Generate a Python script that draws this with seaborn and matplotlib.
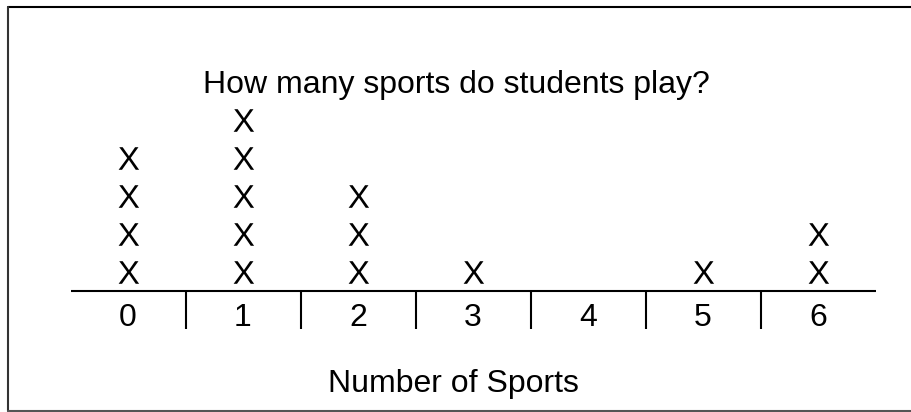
import numpy as np
import pandas as pd
import matplotlib
matplotlib.use("Agg")
import matplotlib.pyplot as plt
import seaborn as sns
from matplotlib.textpath import TextPath
from matplotlib.font_manager import FontProperties
from matplotlib.path import Path
from matplotlib.lines import Line2D

# Data: number of sports and how many students play that many
sports = [0, 1, 2, 3, 4, 5, 6]
counts = [4, 5, 3, 1, 0, 1, 2]
tick_labels = ["0", "1", "2", "3", "4", "5", "6"]

title = "How many sports do students play?"
xlabel = "Number of Sports"

sns.set_theme(style="white")
plt.rcParams['font.family'] = ['Liberation Sans', 'DejaVu Sans']

# one row per X mark, stacked above each value
rows = []
for s, c in zip(sports, counts):
    for k in range(c):
        rows.append({"sports": s, "level": k + 0.5})
df = pd.DataFrame(rows)

# an "X" glyph as a marker
fp = FontProperties(family='Liberation Sans')
tp = TextPath((0, 0), "X", prop=fp, size=1)
v = tp.vertices
ctr = (v.min(axis=0) + v.max(axis=0)) / 2
x_marker = Path(v - ctr, tp.codes)

fig = plt.figure(figsize=(9.11, 4.12), dpi=100)
ax = fig.add_axes([0, 0, 1, 1])
ax.set_xlim(-128 / 115, (911 - 128) / 115)
ax.set_ylim((291 - 412) / 38, 291 / 38)
ax.axis('off')

sns.scatterplot(data=df, x="sports", y="level", marker=x_marker, s=265,
                color="black", linewidth=0, ax=ax, legend=False)

# number line
ax.plot([-0.5, len(sports) - 0.5], [0, 0], color="black", lw=1.5,
        solid_capstyle="butt")
for s in sports[:-1]:
    ax.plot([s + 0.5, s + 0.5], [0, -1.0], color="black", lw=1.5,
            solid_capstyle="butt")
for s, lab in zip(sports, tick_labels):
    ax.text(s, -0.92, lab, ha="center", va="baseline", fontsize=23,
            color="black")

ax.text(2.86, 5.42, title, ha="center", va="center", fontsize=23,
        color="black")
ax.text(2.83, -2.44, xlabel, ha="center", va="center", fontsize=23,
        color="black")

# frame around the picture (top, left, bottom)
fig.add_artist(Line2D([8 / 911, 1], [1 - 6.5 / 412, 1 - 6.5 / 412],
                      color="black", lw=1.5, transform=fig.transFigure))
fig.add_artist(Line2D([8 / 911, 8 / 911], [1 - 6.5 / 412, 1.5 / 412],
                      color="#333333", lw=1.5, transform=fig.transFigure))
fig.add_artist(Line2D([8 / 911, 1], [1.5 / 412, 1.5 / 412],
                      color="#555555", lw=1.5, transform=fig.transFigure))

fig.savefig("out.png", dpi=100, facecolor="white")
